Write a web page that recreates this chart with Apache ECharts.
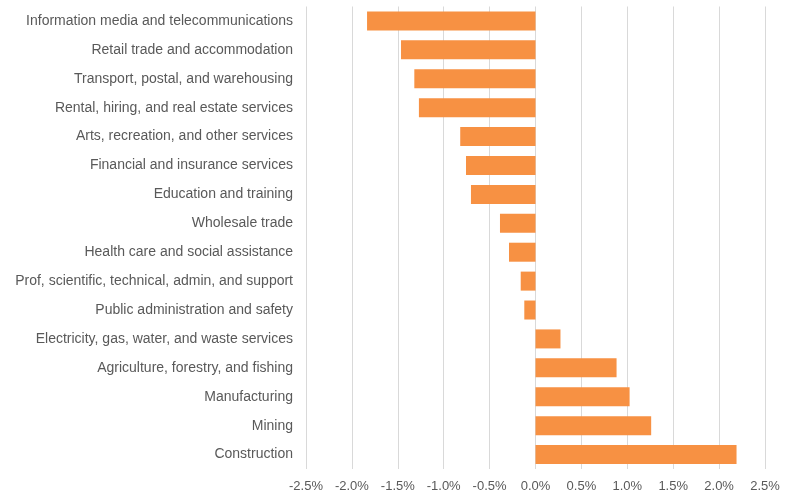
<!DOCTYPE html>
<html><head><meta charset="utf-8">
<script src="https://cdn.jsdelivr.net/npm/echarts@6/dist/echarts.min.js"></script>
<style>html,body{margin:0;padding:0;background:#fff}#c{width:790px;height:493px}</style>
</head><body><div id="c"></div>
<script>
const categories = [
  "Information media and telecommunications",
  "Retail trade and accommodation",
  "Transport, postal, and warehousing",
  "Rental, hiring, and real estate services",
  "Arts, recreation, and other services",
  "Financial and insurance services",
  "Education and training",
  "Wholesale trade",
  "Health care and social assistance",
  "Prof, scientific, technical, admin, and support",
  "Public administration and safety",
  "Electricity, gas, water, and waste services",
  "Agriculture, forestry, and fishing",
  "Manufacturing",
  "Mining",
  "Construction"
];
const values = [-1.835, -1.465, -1.32, -1.27, -0.82, -0.757, -0.703, -0.387, -0.289, -0.161, -0.122, 0.272, 0.883, 1.025, 1.26, 2.19];
const xTicks = [-2.5, -2.0, -1.5, -1.0, -0.5, 0.0, 0.5, 1.0, 1.5, 2.0, 2.5];

const chart = echarts.init(document.getElementById('c'));
chart.setOption({
  animation: false,
  grid: {left: 306, right: 25, top: 6.5, bottom: 23.5, containLabel: false},
  xAxis: {
    type: 'value', min: xTicks[0], max: xTicks[xTicks.length-1], interval: 0.5,
    axisLine: {show: false}, axisTick: {show: false},
    splitLine: {lineStyle: {color: '#d9d9d9', width: 1}},
    axisLabel: {color: '#595959', fontSize: 13, fontFamily: 'Liberation Sans, Arial, sans-serif', margin: 11,
      formatter: v => v.toFixed(1) + '%'}
  },
  yAxis: {
    type: 'category', data: categories, inverse: true,
    axisLine: {show: false}, axisTick: {show: false},
    axisLabel: {color: '#595959', fontSize: 14, fontFamily: 'Liberation Sans, Arial, sans-serif', margin: 13}
  },
  series: [{
    type: 'bar', data: values, barWidth: 19,
    itemStyle: {color: '#F79143'}
  }]
});
</script></body></html>
